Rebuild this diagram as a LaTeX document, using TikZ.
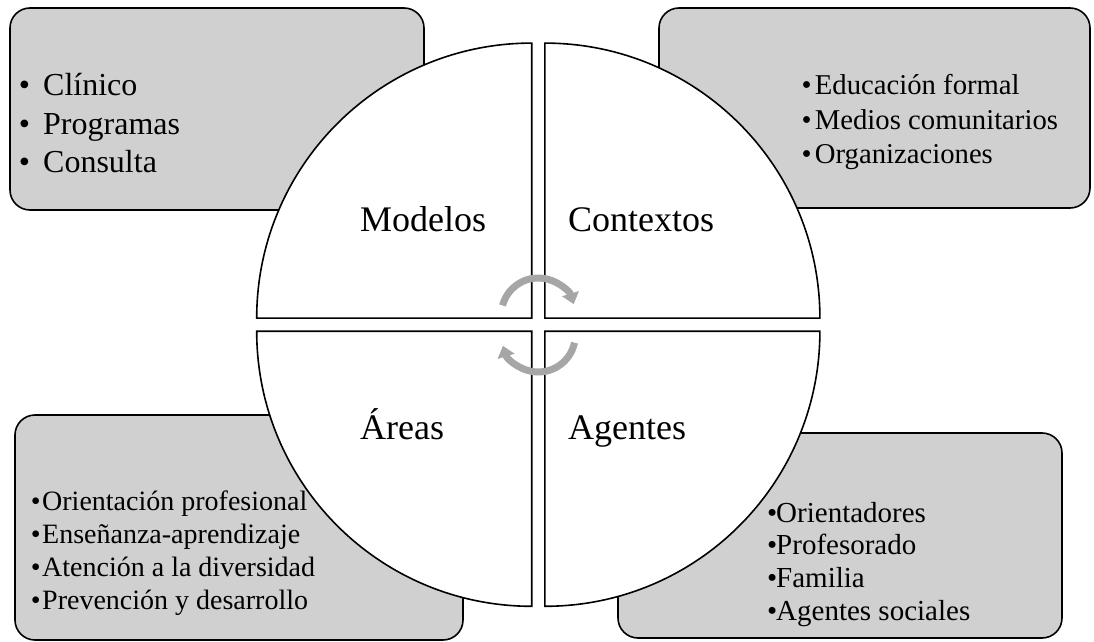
\documentclass[tikz,border=0pt]{standalone}
\usepackage{fontspec}
\setmainfont{Liberation Serif}
\usetikzlibrary{calc}
\usetikzlibrary{arrows.meta}
\definecolor{boxgray}{HTML}{D0D0D0}
\definecolor{turngray}{HTML}{A6A6A6}
\newcommand{\bul}[1]{\makebox[#1][l]{\textbullet}}
\tikzset{
    infobox/.style={fill=boxgray, draw=black, line width=1.6pt, rounded corners=20pt},
    quadrant/.style={fill=white, draw=black, line width=1.6pt},
    quadtitle/.style={anchor=base west, inner sep=0pt, font=\fontsize{36}{43}\selectfont},
    items/.style={anchor=base west, inner sep=0pt, align=left},
    turnarrow/.style={draw=turngray, line width=7pt, -{Triangle[width=17pt,length=11pt]}}
}

\begin{document}
\begin{tikzpicture}[x=1pt, y=1pt]
            \useasboundingbox (0, 0) rectangle (1094, 641);
            \filldraw[infobox] (10, 431) rectangle (424, 633);
            \filldraw[infobox] (659, 433) rectangle (1090, 633);
            \filldraw[infobox] (15, 1) rectangle (463, 226);
            \filldraw[infobox] (618, 3) rectangle (1062, 208);
            \coordinate (c) at (538.3, 316.3);
            \foreach \a in {0, 90, 180, 270}
                \filldraw[quadrant] ($(c) + (\a + 45:9.33)$) -- ++(\a:275) arc [start angle=\a, end angle=\a + 90, radius=275] -- cycle;
            \node[quadtitle] (modelos) at (360, 409.3) {Modelos};
            \node[quadtitle] (contextos) at (568, 409.3) {Contextos};
            \node[quadtitle] (areas) at (360, 202) {Áreas};
            \node[quadtitle] (agentes) at (568, 202) {Agentes};
            \node[items, font=\fontsize{32}{38.5}\selectfont] (modlist) at (18.7, 468) {\bul{24.3pt}Clínico\\\bul{24.3pt}Programas\\\bul{24.3pt}Consulta};
            \node[items, font=\fontsize{28.7}{34.5}\selectfont] (contlist) at (801.5, 477) {\bul{13.2pt}Educación formal\\\bul{13.2pt}Medios comunitarios\\\bul{13.2pt}Organizaciones};
            \node[items, font=\fontsize{28}{33}\selectfont] (arealist) at (30.6, 32) {\bul{11.4pt}Orientación profesional\\\bul{11.4pt}Enseñanza-aprendizaje\\\bul{11.4pt}Atención a la diversidad\\\bul{11.4pt}Prevención y desarrollo};
            \node[items, font=\fontsize{29}{32.7}\selectfont] (agenlist) at (766.8, 20.9) {\bul{9.2pt}Orientadores\\\bul{9.2pt}Profesorado\\\bul{9.2pt}Familia\\\bul{9.2pt}Agentes sociales};
            \coordinate (t) at (538.3, 326);
            \coordinate (b) at (538.3, 306);
            \draw[turnarrow] ([shift={(165:37)}]t) arc [start angle=165, end angle=17, radius=37];
            \draw[turnarrow] ([shift={(-12:37)}]b) arc [start angle=-12, end angle=-163, radius=37];
        \end{tikzpicture}
\end{document}
